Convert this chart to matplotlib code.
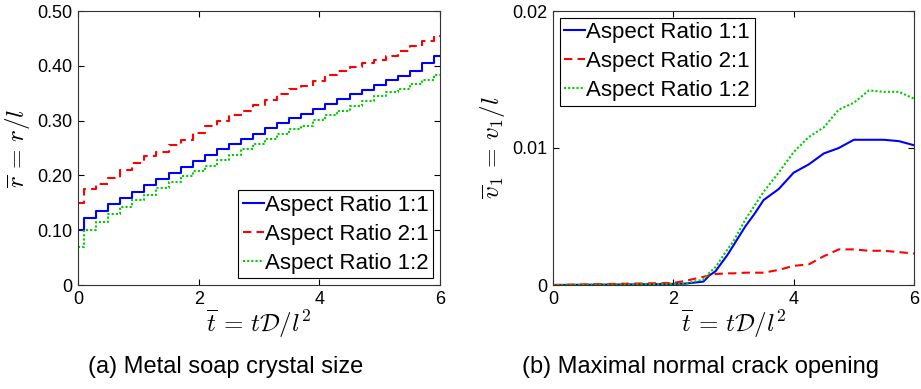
import numpy as np
import matplotlib.pyplot as plt

plt.rcParams['font.family'] = ['Liberation Sans', 'DejaVu Sans']
plt.rcParams['mathtext.fontset'] = 'cm'

# (a) metal soap crystal size, sampled every 0.2
t_r = [0.0, 0.2, 0.4, 0.6, 0.8, 1.0, 1.2, 1.4, 1.6, 1.8, 2.0, 2.2, 2.4, 2.6, 2.8, 3.0,
       3.2, 3.4, 3.6, 3.8, 4.0, 4.2, 4.4, 4.6, 4.8, 5.0, 5.2, 5.4, 5.6, 5.8, 6.0]
r_11 = [0.100, 0.123, 0.135, 0.147, 0.158, 0.170, 0.182, 0.193, 0.204, 0.215, 0.226,
        0.238, 0.248, 0.257, 0.267, 0.276, 0.286, 0.295, 0.304, 0.312, 0.322, 0.331,
        0.340, 0.348, 0.356, 0.365, 0.374, 0.382, 0.391, 0.405, 0.418]
r_21 = [0.150, 0.175, 0.185, 0.195, 0.210, 0.222, 0.235, 0.243, 0.255, 0.265, 0.278,
        0.290, 0.300, 0.310, 0.318, 0.328, 0.338, 0.348, 0.358, 0.363, 0.372, 0.383,
        0.390, 0.397, 0.405, 0.410, 0.418, 0.427, 0.437, 0.445, 0.455]
r_12 = [0.070, 0.100, 0.115, 0.130, 0.142, 0.155, 0.165, 0.177, 0.188, 0.198, 0.208,
        0.218, 0.228, 0.238, 0.248, 0.258, 0.266, 0.276, 0.284, 0.291, 0.302, 0.310,
        0.318, 0.326, 0.336, 0.345, 0.352, 0.358, 0.366, 0.375, 0.383]

# (b) maximal normal crack opening
t_v = [0.0, 1.0, 2.0, 2.2, 2.5, 2.6, 2.7, 2.9, 3.0, 3.2, 3.35, 3.5, 3.75, 4.0, 4.25,
       4.5, 4.75, 5.0, 5.25, 5.5, 5.75, 6.0]
v_11 = [0.0000, 0.00003, 0.00008, 0.0001, 0.00025, 0.0007, 0.0010, 0.0022, 0.0029,
        0.0043, 0.0052, 0.0062, 0.0070, 0.0082, 0.0088, 0.0096, 0.0100, 0.0106, 0.0106,
        0.0106, 0.0105, 0.0102]
v_21 = [0.0000, 0.00008, 0.00015, 0.0003, 0.0006, 0.0007, 0.0008, 0.00085, 0.00085,
        0.0009, 0.0009, 0.0009, 0.0011, 0.0014, 0.0015, 0.0021, 0.0026, 0.0026, 0.0025,
        0.0025, 0.0024, 0.0023]
v_12 = [0.0000, 0.00003, 0.00008, 0.0001, 0.0004, 0.0009, 0.0013, 0.0026, 0.0032,
        0.0048, 0.0058, 0.0068, 0.0082, 0.0097, 0.0108, 0.0115, 0.0128, 0.0133, 0.0142,
        0.0141, 0.0141, 0.0136]

labels = ['Aspect Ratio 1:1', 'Aspect Ratio 2:1', 'Aspect Ratio 1:2']
colors = ['#0000ff', '#ff0000', '#00cc00']
styles = ['-', (0, (4, 2.5)), (0, (1, 1))]

fig = plt.figure(figsize=(9.21, 3.89), dpi=100)
ax1 = fig.add_axes([78 / 921, 104 / 389, 362 / 921, 274 / 389])
ax2 = fig.add_axes([553 / 921, 104 / 389, 361 / 921, 274 / 389])

for y, c, s, lab in zip([r_11, r_21, r_12], colors, styles, labels):
    ax1.plot(t_r, y, color=c, linestyle=s, lw=1.5, label=lab, drawstyle='steps-mid')
for y, c, s, lab in zip([v_11, v_21, v_12], colors, styles, labels):
    ax2.plot(t_v, y, color=c, linestyle=s, lw=1.5, label=lab)

ax1.set_xlim(0, 6)
ax1.set_ylim(0, 0.5)
ax1.set_xticks([0, 2, 4, 6])
ax1.set_yticks([0, 0.1, 0.2, 0.3, 0.4, 0.5])
ax1.set_yticklabels(['0', '0.10', '0.20', '0.30', '0.40', '0.50'])
ax1.set_ylabel(r'$\overline{r}\,=\,r/l$', fontsize=18, labelpad=4)

ax2.set_xlim(0, 6)
ax2.set_ylim(0, 0.02)
ax2.set_xticks([0, 2, 4, 6])
ax2.set_yticks([0, 0.01, 0.02])
ax2.set_yticklabels(['0', '0.01', '0.02'])
ax2.set_ylabel(r'$\overline{v}_1\,=\,v_1/l$', fontsize=18, labelpad=4)

for ax in (ax1, ax2):
    ax.set_xlabel(r'$\overline{t}\,=\,t\mathcal{D}/l^2$', fontsize=18, labelpad=0)
    ax.tick_params(direction='in', top=True, right=True, labelsize=13, length=4,
                   width=0.8, pad=4)
    for sp in ax.spines.values():
        sp.set_linewidth(0.8)
        sp.set_color('#333333')

leg_kw = dict(fontsize=16, fancybox=False, edgecolor='black', framealpha=1,
              handlelength=0.95, handletextpad=0.05, labelspacing=0.36,
              borderpad=0.2, borderaxespad=0.3)
l1 = ax1.legend(loc='lower right', **leg_kw)
l2 = ax2.legend(loc='upper left', **leg_kw)
for l in (l1, l2):
    l.get_frame().set_linewidth(0.8)

fig.text(226 / 921, 1 - 367 / 389, '(a) Metal soap crystal size', ha='center',
         va='center', fontsize=17)
fig.text(700 / 921, 1 - 367 / 389, '(b) Maximal normal crack opening', ha='center',
         va='center', fontsize=17)

fig.savefig('out.png', dpi=100)
